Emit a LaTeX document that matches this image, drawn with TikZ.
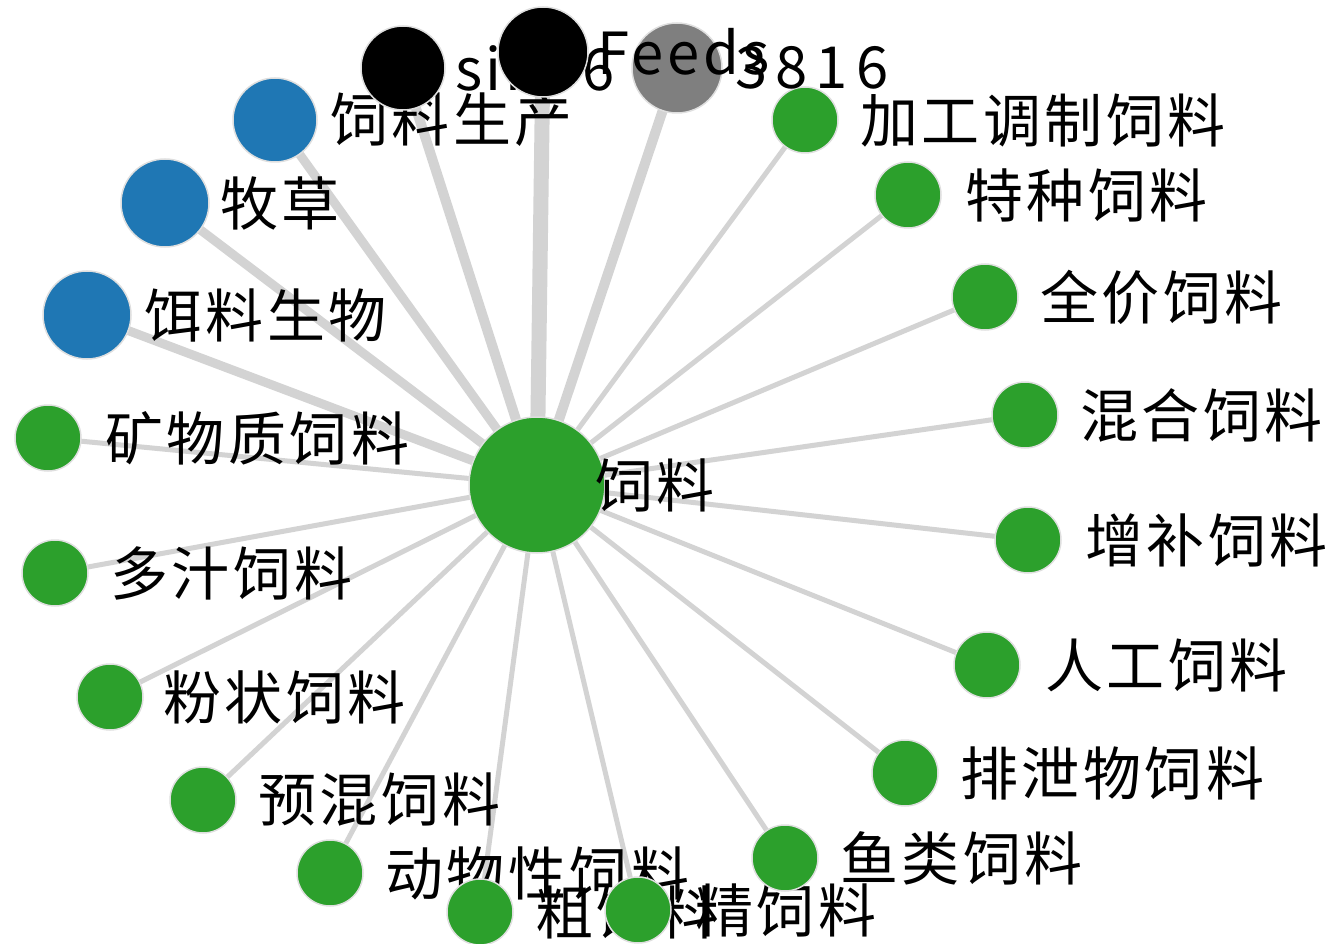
\documentclass[tikz,border=0pt]{standalone}
\usepackage{fontspec}
\usepackage{xcolor}
\newfontfamily\cjk[LetterSpace=6]{Noto Sans CJK SC}
\newfontfamily\cjkwide[LetterSpace=14]{Noto Sans CJK SC}

\definecolor{nodegreen}{RGB}{44,160,44}
\definecolor{nodeblue}{RGB}{31,119,180}
\definecolor{nodegray}{RGB}{127,127,127}
\definecolor{edgegray}{RGB}{211,211,211}

\tikzset{
    dot/.style={circle, draw=white!75!gray, line width=1.5pt, inner sep=0pt, minimum size=#1},
    greendot/.style={dot=66pt, fill=nodegreen},
    bluedot/.style={dot=88pt, fill=nodeblue},
    blackdot/.style={dot=#1, fill=black},
    lbl/.style={anchor=west, inner sep=0pt, font=\cjk\fontsize{58pt}{58pt}\selectfont},
    numlbl/.style={lbl, font=\cjkwide\fontsize{58pt}{58pt}\selectfont},
    link/.style={draw=edgegray, line width=#1, line cap=round}
}

\begin{document}
\begin{tikzpicture}[x=1pt,y=-1pt]
        \useasboundingbox (0,0) rectangle (1334,944);

        % Node positions
        \coordinate (hub) at (537,485);
        \coordinate (p1) at (403,68);    % black
        \coordinate (p2) at (543,52);    % black
        \coordinate (p3) at (677,68);    % gray
        \coordinate (b1) at (275,120);
        \coordinate (b2) at (165,203);
        \coordinate (b3) at (87,315);
        \coordinate (g1) at (48,438);
        \coordinate (g2) at (55,573);
        \coordinate (g3) at (110,697);
        \coordinate (g4) at (203,800);
        \coordinate (g5) at (330,873);
        \coordinate (g6) at (480,912);
        \coordinate (g7) at (638,910);
        \coordinate (g8) at (785,858);
        \coordinate (g9) at (905,773);
        \coordinate (g10) at (987,665);
        \coordinate (g11) at (1028,540);
        \coordinate (g12) at (1025,415);
        \coordinate (g13) at (985,297);
        \coordinate (g14) at (908,195);
        \coordinate (g15) at (805,120);

        % Links from the hub
        \draw[link=15pt] (hub) -- (p2);
        \draw[link=10pt] (hub) -- (p1);
        \draw[link=10pt] (hub) -- (p3);
        \foreach \n in {b1,b2,b3}
            \draw[link=9pt] (hub) -- (\n);
        \foreach \n in {g1,g2,g3,g4,g5,g6,g7,g8,g9,g10,g11,g12,g13,g14,g15}
            \draw[link=5pt] (hub) -- (\n);

        % Hub
        \node[dot=136pt, fill=nodegreen] (hubdot) at (hub) {};
        \node[lbl] at ([xshift=58pt]hub) {饲料};

        % Blue nodes
        \node[bluedot, minimum size=84pt] (feedprod) at (b1) {};
        \node[lbl] at ([xshift=55pt]feedprod.center) {饲料生产};
        \node[bluedot] (forage) at (b2) {};
        \node[lbl] at ([xshift=55pt]forage.center) {牧草};
        \node[bluedot] (baitorg) at (b3) {};
        \node[lbl] at ([xshift=57pt]baitorg.center) {饵料生物};

        % Green nodes, left side
        \node[greendot] (mineral) at (g1) {};
        \node[lbl] at ([xshift=57pt]mineral.center) {矿物质饲料};
        \node[greendot] (juicy) at (g2) {};
        \node[lbl] at ([xshift=55pt]juicy.center) {多汁饲料};
        \node[greendot] (powder) at (g3) {};
        \node[lbl] at ([xshift=53pt]powder.center) {粉状饲料};
        \node[greendot] (premix) at (g4) {};
        \node[lbl] at ([xshift=55pt]premix.center) {预混饲料};
        \node[greendot] (animal) at (g5) {};
        \node[lbl] at ([xshift=55pt]animal.center) {动物性饲料};
        \node[greendot] (rough) at (g6) {};
        \node[lbl] at ([xshift=55pt]rough.center) {粗饲料};
        \node[greendot] (concentrate) at (g7) {};
        \node[lbl] at ([xshift=57pt]concentrate.center) {精饲料};

        % Green nodes, right side
        \node[greendot] (fish) at (g8) {};
        \node[lbl] at ([xshift=55pt]fish.center) {鱼类饲料};
        \node[greendot] (excreta) at (g9) {};
        \node[lbl] at ([xshift=55pt]excreta.center) {排泄物饲料};
        \node[greendot] (artificial) at (g10) {};
        \node[lbl] at ([xshift=58pt]artificial.center) {人工饲料};
        \node[greendot] (supplement) at (g11) {};
        \node[lbl] at ([xshift=57pt]supplement.center) {增补饲料};
        \node[greendot] (mixed) at (g12) {};
        \node[lbl] at ([xshift=55pt]mixed.center) {混合饲料};
        \node[greendot] (complete) at (g13) {};
        \node[lbl] at ([xshift=55pt]complete.center) {全价饲料};
        \node[greendot] (special) at (g14) {};
        \node[lbl] at ([xshift=57pt]special.center) {特种饲料};
        \node[greendot] (processed) at (g15) {};
        \node[lbl] at ([xshift=55pt]processed.center) {加工调制饲料};

        % Top nodes
        \node[blackdot=84pt] (top1) at (p1) {};
        \node[lbl] at ([xshift=52pt]top1.center) {sino6};
        \node[dot=90pt, fill=nodegray] (top3) at (p3) {};
        \node[numlbl] at ([xshift=58pt]top3.center) {3816};
        \node[blackdot=90pt] (top2) at (p2) {};
        \node[lbl] at ([xshift=54pt]top2.center) {Feeds};
    \end{tikzpicture}
\end{document}
